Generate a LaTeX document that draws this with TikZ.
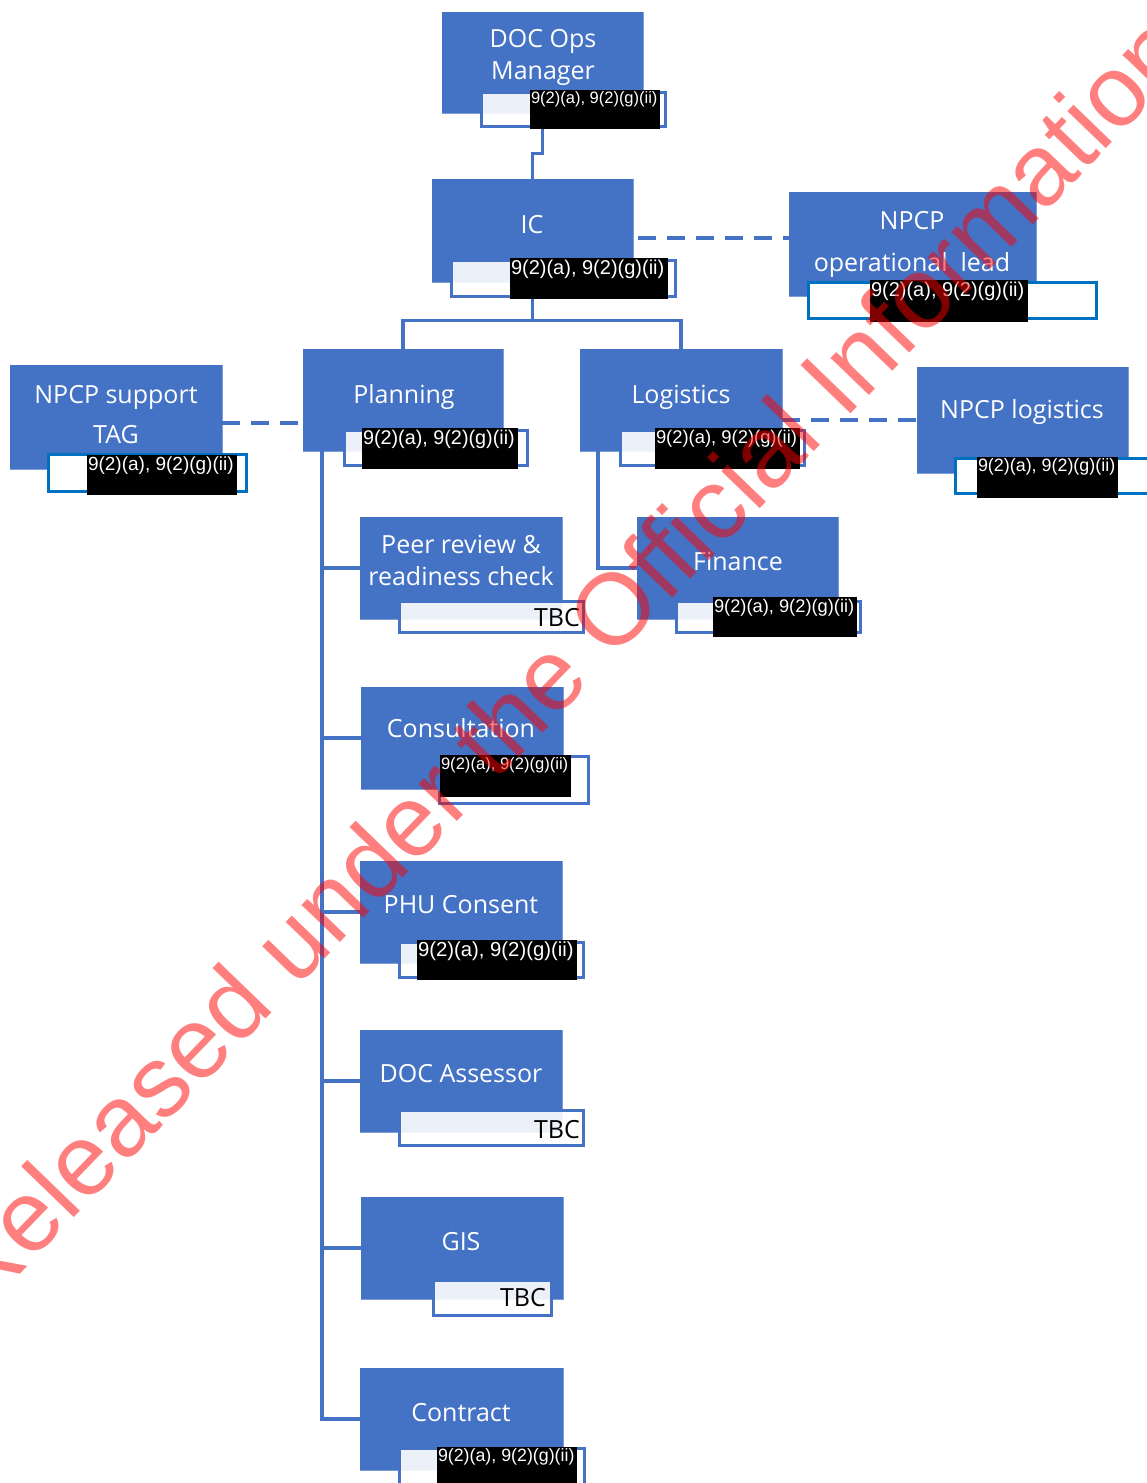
\documentclass[tikz,border=0pt]{standalone}
\usepackage{fontspec}
\setmainfont{Open Sans}
\newfontfamily\arialf{Liberation Sans}
\definecolor{accblue}{HTML}{4472C4}
\definecolor{npblue}{HTML}{0070C0}
\tikzset{
  bluebox/.style={fill=accblue, draw=accblue!70!white, line width=0.6pt, inner sep=0pt},
  namebox/.style={draw=accblue, line width=3pt, fill=white, fill opacity=0.9, draw opacity=1, inner sep=0pt},
  npname/.style={draw=npblue, line width=3pt, fill=white, inner sep=0pt},
  redbox/.style={fill=black, inner sep=0pt},
  redtext/.style={text=white, inner sep=0pt, anchor=north west},
  lbl/.style={text=white, font=\fontsize{25}{28}\selectfont, anchor=base, inner sep=0pt},
  tbc/.style={text=black, font=\fontsize{25}{28}\selectfont, anchor=base east, inner sep=0pt},
  conn/.style={draw=accblue, line width=3.5pt},
  dconn/.style={draw=accblue, line width=4pt, dash pattern=on 18pt off 11pt},
  wm/.style={font=\arialf\fontsize{101}{101}\selectfont, text=red, text opacity=0.5, rotate=46, anchor=base, inner sep=0pt}
}
\newcommand\RedactBox[6]{%
  \node[redbox, minimum width=#4pt, minimum height=#5pt] (#1) at (#2,#3) {};
  \node[redtext, font=\arialf\fontsize{#6}{#6}\selectfont] (#1t) at ([xshift=1pt,yshift=-2pt]#1.north west) {9(2)(a), 9(2)(g)(ii)};
}
\begin{document}
\begin{tikzpicture}[x=1pt,y=-1pt]
\useasboundingbox (0,0) rectangle (1147,1483);
\clip (0,0) rectangle (1147,1483);
\fill[white] (0,0) rectangle (1147,1483);

% blue boxes (positions)
\path
  node[bluebox, minimum width=201pt, minimum height=101pt] (ops) at (542.5,62.5) {}
  node[bluebox, minimum width=201pt, minimum height=103pt] (ic) at (532.5,230.5) {}
  node[bluebox, minimum width=247pt, minimum height=104pt] (opl) at (912.5,244) {}
  node[bluebox, minimum width=212pt, minimum height=104pt] (tag) at (116,417) {}
  node[bluebox, minimum width=200pt, minimum height=102pt] (plan) at (403,400) {}
  node[bluebox, minimum width=202pt, minimum height=102pt] (log) at (681,400) {}
  node[bluebox, minimum width=211pt, minimum height=106pt] (nlog) at (1022.5,420) {}
  node[bluebox, minimum width=202pt, minimum height=102pt] (peer) at (461,568) {}
  node[bluebox, minimum width=201pt, minimum height=102pt] (fin) at (737.5,568) {}
  node[bluebox, minimum width=202pt, minimum height=102pt] (cons) at (462,738) {}
  node[bluebox, minimum width=202pt, minimum height=102pt] (phu) at (461,912) {}
  node[bluebox, minimum width=202pt, minimum height=102pt] (doca) at (461,1081) {}
  node[bluebox, minimum width=202pt, minimum height=102pt] (gis) at (462,1248) {}
  node[bluebox, minimum width=203pt, minimum height=102pt] (con) at (461.5,1419) {};

% connectors
\draw[conn] (ops.south) -- ++(0,40) -| (ic.north);
\coordinate (icj) at ([yshift=-38pt]ic.south);
\draw[conn] (ic.south) -- (icj);
\draw[conn] (plan.north) |- (icj) -| (log.north);
\coordinate (ptr) at ([xshift=-81pt]plan.south);
\draw[conn] (ptr) |- (peer.west);
\draw[conn] (ptr) |- (cons.west);
\draw[conn] (ptr) |- (phu.west);
\draw[conn] (ptr) |- (doca.west);
\draw[conn] (ptr) |- (gis.west);
\draw[conn] (ptr) |- (con.west);
\coordinate (ltr) at ([xshift=-83pt]log.south);
\draw[conn] (ltr) |- (fin.west);
\draw[dconn] ([xshift=5pt,yshift=-7.5pt]ic.east) -- ([yshift=-7.5pt]ic.east -| opl.west);
\draw[dconn] ([yshift=-6pt]tag.east) -- ([yshift=-6pt]tag.east -| plan.west);
\draw[dconn] (log.east |- nlog.west) -- (nlog.west);

% blue boxes on top of connectors
\foreach \b in {ops,ic,opl,tag,plan,log,nlog,peer,fin,cons,phu,doca,gis,con}{
  \fill[accblue] (\b.north west) rectangle (\b.south east);
}

% name boxes
\node[namebox, minimum width=184pt, minimum height=34pt] (opsN) at (573.5,109.5) {};
\node[namebox, minimum width=224pt, minimum height=36pt] (icN) at (563.5,278.5) {};
\node[npname, minimum width=288pt, minimum height=36pt] (oplN) at (952.5,300.5) {};
\node[npname, minimum width=198pt, minimum height=37pt] (tagN) at (147.5,473) {};
\node[namebox, minimum width=183pt, minimum height=35pt] (planN) at (436,448) {};
\node[namebox, minimum width=184pt, minimum height=35pt] (logN) at (712.5,448) {};
\node[npname, minimum width=203pt, minimum height=35pt] (nlogN) at (1057,476) {};
\node[namebox, minimum width=184pt, minimum height=31pt] (peerN) at (491.5,617) {};
\node[namebox, minimum width=184pt, minimum height=31pt] (finN) at (768.5,617) {};
\node[namebox, fill opacity=1, minimum width=149pt, minimum height=47pt] (consN) at (514,780) {};
\node[namebox, minimum width=184pt, minimum height=35pt] (phuN) at (491.5,960) {};
\node[namebox, minimum width=184pt, minimum height=35pt] (docaN) at (491.5,1128) {};
\node[namebox, minimum width=118pt, minimum height=35pt] (gisN) at (492.5,1298) {};
\node[namebox, minimum width=185pt, minimum height=50pt] (conN) at (492,1473.5) {};

% redactions
\RedactBox{opsR}{595}{109.5}{130}{39}{16.5}
\RedactBox{icR}{589}{278.5}{158}{41}{20}
\RedactBox{oplR}{949}{301}{158}{42}{20}
\RedactBox{tagR}{162}{475}{150}{40}{19}
\RedactBox{planR}{440}{448.5}{156}{41}{19.8}
\RedactBox{logR}{727.5}{448.5}{145}{41}{18.4}
\RedactBox{nlogR}{1047.5}{477.5}{141}{41}{17.9}
\RedactBox{finR}{785}{617}{144}{40}{18.3}
\RedactBox{consR}{505.5}{776}{131}{42}{16.6}
\RedactBox{phuR}{497}{960}{160}{40}{20.3}
\RedactBox{conR}{507}{1468.5}{140}{43}{17.8}

% labels
\node[lbl] (opsL1) at (543,47) {DOC Ops};
\node[lbl] (opsL2) at (543,79) {Manager};
\node[lbl] (icL) at (532,233) {IC};
\node[lbl] (oplL1) at (912,229) {NPCP};
\node[lbl] (oplL2) at (912,271) {operational~ lead};
\node[lbl] (tagL1) at (116,403) {NPCP support};
\node[lbl] (tagL2) at (116,443) {TAG};
\node[lbl] (planL) at (404,403) {Planning};
\node[lbl] (logL) at (681,403) {Logistics};
\node[lbl] (nlogL) at (1022,418) {NPCP logistics};
\node[lbl] (peerL1) at (461,553) {Peer review \&};
\node[lbl] (peerL2) at (461,585) {readiness check};
\node[lbl] (finL) at (738,570) {Finance};
\node[lbl] (consL) at (461,737) {Consultation};
\node[lbl] (phuL) at (461,913) {PHU Consent};
\node[lbl] (docaL) at (461,1082) {DOC Assessor};
\node[lbl] (gisL) at (461,1250) {GIS};
\node[lbl] (conL) at (461,1421) {Contract};

\node[tbc] (peerT) at (580,626) {TBC};
\node[tbc] (docaT) at (580,1138) {TBC};
\node[tbc] (gisT) at (546,1306) {TBC};

% watermark
\node[wm] (wmark) at (588,686) {Released under the Official Information};
\end{tikzpicture}
\end{document}
